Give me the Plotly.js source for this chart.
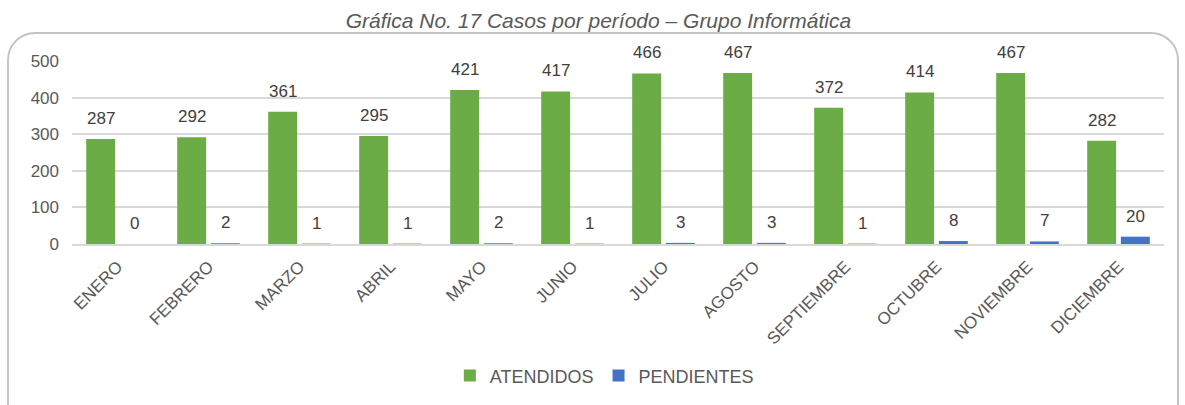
<!DOCTYPE html>
<html>
<head>
<meta charset="utf-8">
<script src="https://cdn.plot.ly/plotly-3.0.1.min.js"></script>
<style>
  html, body { margin: 0; padding: 0; background: #fff; }
  #wrap { position: relative; width: 1185px; height: 405px; overflow: hidden; }
  #frame {
    position: absolute; left: 7px; top: 32px; width: 1172px; height: 420px;
    border: 2px solid #c4c4c4; border-radius: 28px; box-sizing: border-box;
  }
  #chart { position: absolute; left: 0; top: 0; width: 1185px; height: 405px; }
</style>
</head>
<body>
<div id="wrap">
  <div id="frame"></div>
  <div id="chart"></div>
</div>
<script>
// datos de la gráfica
const meses = ['ENERO', 'FEBRERO', 'MARZO', 'ABRIL', 'MAYO', 'JUNIO', 'JULIO',
               'AGOSTO', 'SEPTIEMBRE', 'OCTUBRE', 'NOVIEMBRE', 'DICIEMBRE'];
const atendidos = [287, 292, 361, 295, 421, 417, 466, 467, 372, 414, 467, 282];
const pendientes = [0, 2, 1, 1, 2, 1, 3, 3, 1, 8, 7, 20];

const gris = '#595959';
const fuente = 'Liberation Sans, Arial, sans-serif';

const traces = [
  {
    type: 'bar', name: 'ATENDIDOS', x: meses, y: atendidos,
    marker: { color: '#6cac46' }, hoverinfo: 'x+y'
  },
  {
    type: 'bar', name: 'PENDIENTES', x: meses, y: pendientes,
    marker: { color: '#4472c4' }, hoverinfo: 'x+y'
  }
];

// etiquetas de datos encima de cada barra
const etiquetas = [];
meses.forEach((m, i) => {
  etiquetas.push({ x: m, y: atendidos[i], text: String(atendidos[i]), xshift: -17,
    yshift: 9, yanchor: 'bottom', showarrow: false, font: { size: 17, color: '#404040' } });
  etiquetas.push({ x: m, y: pendientes[i], text: String(pendientes[i]), xshift: 17,
    yshift: 9, yanchor: 'bottom', showarrow: false, font: { size: 17, color: '#404040' } });
});

const layout = {
  width: 1185, height: 405,
  paper_bgcolor: 'rgba(0,0,0,0)', plot_bgcolor: 'rgba(0,0,0,0)',
  font: { family: fuente, color: gris, size: 17 },
  title: {
    text: '<i>Gráfica No. 17 Casos por período – Grupo Informática</i>',
    x: 0.505, xanchor: 'center', y: 0.95, yanchor: 'middle',
    font: { size: 21, color: gris }
  },
  margin: { l: 72, r: 21, t: 61, b: 161 },
  barmode: 'group', bargap: 0.26, bargroupgap: 0.14,
  xaxis: {
    type: 'category', tickangle: -45, ticks: '', showgrid: false,
    tickfont: { size: 17, color: gris }, ticklabelstandoff: 4,
    showline: true, linecolor: '#d9d9d9', linewidth: 2
  },
  yaxis: {
    range: [0, 500], dtick: 100, showgrid: true, gridcolor: '#d9d9d9', gridwidth: 2,
    zeroline: false, tickfont: { size: 17, color: gris }, ticklabelstandoff: 12
  },
  showlegend: true,
  legend: {
    orientation: 'h', xref: 'container', yref: 'container',
    x: 0.51, xanchor: 'center', y: 0.072, yanchor: 'middle',
    font: { size: 18, color: gris }, itemwidth: 30, tracegroupgap: 0
  },
  annotations: etiquetas
};

Plotly.newPlot('chart', traces, layout, { displayModeBar: false, staticPlot: true });
</script>
</body>
</html>
